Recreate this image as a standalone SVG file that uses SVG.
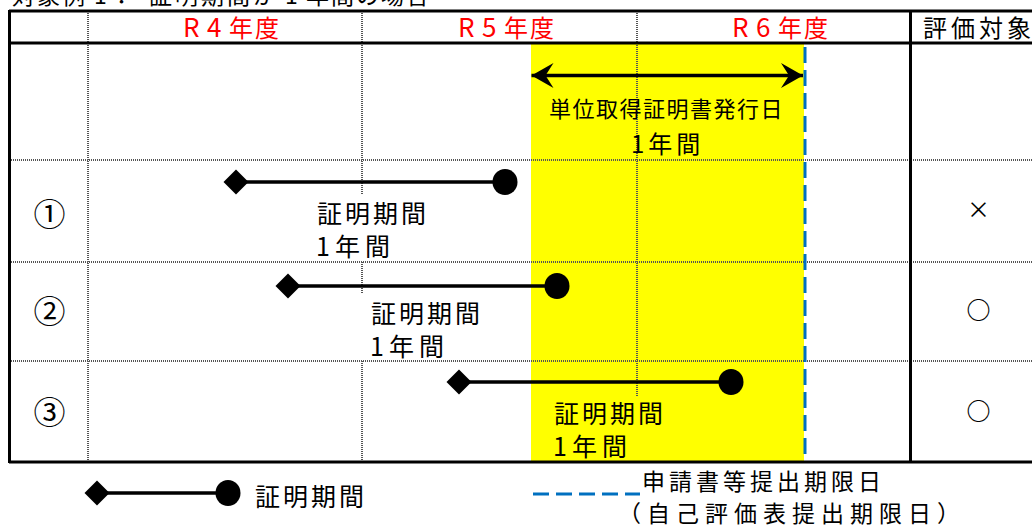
<svg xmlns="http://www.w3.org/2000/svg" width="1032" height="526" viewBox="0 0 1032 526">
<defs>
<style>
text{font-family:'Noto Sans CJK JP','Noto Sans',sans-serif;fill:#000}
.red{fill:#ff0000;font-size:24px}
.lat{font-size:26px}
.g{stroke:#555;stroke-width:2;stroke-dasharray:1 1;fill:none}
.b{stroke:#000;stroke-width:3;fill:none}
.lbl{font-size:25px;letter-spacing:3px}
.yr{font-size:25px;letter-spacing:5px}
.num{font-size:32px}
.mark{font-size:24px;font-weight:700}
.per{stroke:#000;stroke-width:3.5}
.due{stroke:#0070c0;stroke-width:3;stroke-dasharray:16 7}
</style>
<path id="dia" d="M-12.5,0 L0,-12.5 L12.5,0 L0,12.5 Z" fill="#000"/>
<ellipse id="dot" cx="0" cy="0" rx="12.5" ry="13" fill="#000"/>
<marker id="ah" viewBox="-24 -14 26 28" refX="0" refY="0" markerWidth="26" markerHeight="28" markerUnits="userSpaceOnUse" orient="auto-start-reverse">
<path d="M0,0 L-22,-12.5 L-14,0 L-22,12.5 Z" fill="#000"/>
</marker>
</defs>
<rect width="1032" height="526" fill="#fff"/>
<text font-size="23" y="4"><tspan x="12" letter-spacing="2">対象例</tspan><tspan x="94">1</tspan><tspan x="110">：</tspan><tspan x="149" letter-spacing="3">証明期間が</tspan><tspan x="285">1</tspan><tspan x="306" letter-spacing="2">年間の場合</tspan></text>

<g id="highlight">
<rect x="531" y="44" width="273" height="417" fill="#ffff00"/>
</g>

<g id="grid">
<line class="g" x1="88" y1="11" x2="88" y2="462"/>
<line class="g" x1="362" y1="11" x2="362" y2="195"/>
<line class="g" x1="362" y1="262" x2="362" y2="293"/>
<line class="g" x1="362" y1="361" x2="362" y2="462"/>
<line class="g" x1="637" y1="11" x2="637" y2="396"/>
<line class="g" x1="9" y1="160" x2="1032" y2="160"/>
<line class="g" x1="9" y1="262" x2="1032" y2="262"/>
<line class="g" x1="9" y1="361" x2="1032" y2="361"/>
<line class="b" x1="9" y1="11" x2="1032" y2="11" stroke-width="2.5"/>
<line class="b" x1="9" y1="43" x2="1032" y2="43"/>
<line class="b" x1="9" y1="462" x2="1032" y2="462"/>
<line class="b" x1="9.5" y1="10" x2="9.5" y2="463"/>
<line class="b" x1="910.5" y1="10" x2="910.5" y2="463"/>
</g>

<g id="header">
<text class="red" y="36.5"><tspan class="lat" x="183">R</tspan><tspan class="lat" x="207">4</tspan><tspan x="229">年</tspan><tspan x="255">度</tspan></text>
<text class="red" y="36.5"><tspan class="lat" x="458">R</tspan><tspan class="lat" x="482">5</tspan><tspan x="504">年</tspan><tspan x="530">度</tspan></text>
<text class="red" y="36.5"><tspan class="lat" x="732">R</tspan><tspan class="lat" x="756">6</tspan><tspan x="778">年</tspan><tspan x="804">度</tspan></text>
<text y="36.5" x="923" font-size="24" letter-spacing="4">評価対象</text>
</g>

<g id="deadline">
<line class="due" x1="805" y1="43" x2="805" y2="461" stroke-dashoffset="19"/>
</g>

<g id="issue-range">
<line x1="531.5" y1="75.5" x2="803" y2="75.5" stroke="#000" stroke-width="3.5" marker-start="url(#ah)" marker-end="url(#ah)"/>
<text x="549" y="117" font-size="22" letter-spacing="1.5">単位取得証明書発行日</text>
<text x="631" y="153" font-size="24" letter-spacing="4">1年間</text>
</g>

<g id="row1">
<text x="49.5" y="226" class="num" text-anchor="middle">①</text>
<text x="317" y="223" class="lbl">証明期間</text>
<text x="316" y="256" class="yr">1年間</text>
<text x="978.5" y="218" font-size="23" text-anchor="middle">×</text>
</g>
<g id="row2">
<text x="49.5" y="323" class="num" text-anchor="middle">②</text>
<text x="371" y="323" class="lbl">証明期間</text>
<text x="370" y="356" class="yr">1年間</text>
<text x="978.5" y="319" class="mark" text-anchor="middle">○</text>
</g>
<g id="row3">
<text x="49.5" y="424" class="num" text-anchor="middle">③</text>
<text x="554" y="423" class="lbl">証明期間</text>
<text x="553" y="456" class="yr">1年間</text>
<text x="978.5" y="420" class="mark" text-anchor="middle">○</text>
</g>

<g id="connectors">
<line class="per" x1="236" y1="182" x2="505" y2="182"/>
<use href="#dia" x="236" y="182"/>
<use href="#dot" x="505" y="182"/>
<line class="per" x1="288" y1="286" x2="557" y2="286"/>
<use href="#dia" x="288" y="286"/>
<use href="#dot" x="557" y="286"/>
<line class="per" x1="459" y1="382" x2="731" y2="382"/>
<use href="#dia" x="459" y="382"/>
<use href="#dot" x="731" y="382"/>
</g>

<g id="legend">
<line class="per" x1="97" y1="493" x2="228" y2="493"/>
<use href="#dia" x="97" y="493"/>
<use href="#dot" x="228" y="493"/>
<text x="255" y="506" class="lbl">証明期間</text>
<line class="due" x1="533" y1="494" x2="640" y2="494"/>
<text x="642" y="490" font-size="23" letter-spacing="4">申請書等提出期限日</text>
<text x="618" y="522" font-size="23" letter-spacing="6">（自己評価表提出期限日）</text>
</g>
</svg>
